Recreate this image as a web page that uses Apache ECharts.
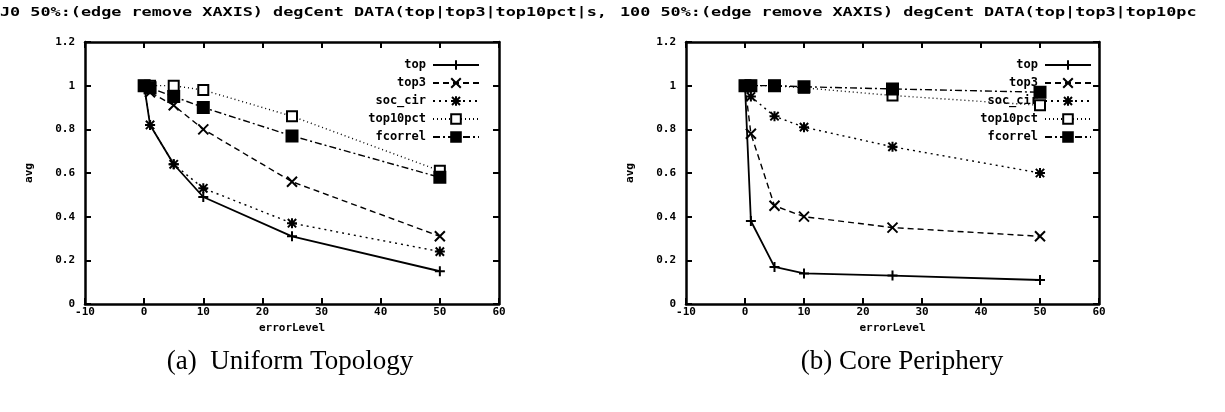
<!DOCTYPE html>
<html>
<head>
<meta charset="utf-8">
<script src="https://cdn.jsdelivr.net/npm/echarts@6/dist/echarts.min.js"></script>
<style>
  html, body { margin: 0; padding: 0; background: #fff; }
  #chart { width: 1225px; height: 412px; }
</style>
</head>
<body>
<div id="chart"></div>
<script>
// x values (errorLevel)
var errorLevels = [0, 1, 5, 10, 25, 50];
var seriesNames = ['top', 'top3', 'soc_cir', 'top10pct', 'fcorrel'];

// (a) Uniform Topology
var uniTop      = [1, 0.82, 0.64, 0.49, 0.31, 0.15];
var uniTop3     = [1, 0.97, 0.91, 0.80, 0.56, 0.31];
var uniSocCir   = [1, 0.82, 0.64, 0.53, 0.37, 0.24];
var uniTop10pct = [1, 1.00, 1.00, 0.98, 0.86, 0.61];
var uniFcorrel  = [1, 0.99, 0.95, 0.90, 0.77, 0.58];

// (b) Core Periphery
var cpTop      = [1, 0.38, 0.17, 0.14, 0.13, 0.11];
var cpTop3     = [1, 0.78, 0.45, 0.40, 0.35, 0.31];
var cpSocCir   = [1, 0.95, 0.86, 0.81, 0.72, 0.60];
var cpTop10pct = [1, 1.00, 1.00, 0.99, 0.955, 0.91];
var cpFcorrel  = [1, 1.00, 1.00, 0.995, 0.985, 0.97];

var yTicks = ['0', '0.2', '0.4', '0.6', '0.8', '1', '1.2'];

var titleA = 'J0 50%:(edge remove XAXIS) degCent DATA(top|top3|top10pct|s,';
var titleB = '100 50%:(edge remove XAXIS) degCent DATA(top|top3|top10pc';
var captionA = '(a)  Uniform Topology';
var captionB = '(b) Core Periphery';

var monoFont = '"DejaVu Sans Mono", monospace';

// 标记形状
var symPlus = 'path://M5,0L5,10M0,5L10,5';
var symCross = 'path://M0,0L10,10M10,0L0,10';
var symStar = 'path://M0,0L10,10M10,0L0,10M5,-1L5,11M-1,5L11,5';

var styles = {
  top:      { dash: 'solid',          symbol: symPlus,  size: 10, fill: 'transparent' },
  top3:     { dash: [6, 4],           symbol: symCross, size: 10, fill: 'transparent' },
  soc_cir:  { dash: [2, 4],           symbol: symStar,  size: 10, fill: 'transparent' },
  top10pct: { dash: [1, 3],           symbol: 'rect',   size: 10, fill: '#fff' },
  fcorrel:  { dash: [7, 3, 2, 3],     symbol: 'rect',   size: 11, fill: '#000' }
};

function pairs(ys) {
  return errorLevels.map(function (x, i) { return [x, ys[i]]; });
}

function makeSeries(name, ys, idx) {
  var s = styles[name];
  return {
    name: name,
    type: 'line',
    xAxisIndex: idx,
    yAxisIndex: idx,
    data: pairs(ys),
    symbol: s.symbol,
    symbolSize: s.size,
    showAllSymbol: true,
    animation: false,
    lineStyle: { color: '#000', width: name === 'top' ? 1.8 : 1.4, type: s.dash },
    itemStyle: { color: s.fill, borderColor: '#000', borderWidth: 2 }
  };
}

var chart = echarts.init(document.getElementById('chart'));

var grids = [
  { left: 85, top: 42, width: 414, height: 262 },
  { left: 686, top: 42, width: 413, height: 262 }
];

var lineSty = { color: '#000', width: 2.5 };
var tickSty = { inside: true, length: 6, lineStyle: { color: '#000', width: 2 } };

function xAxes(idx) {
  return [{
    type: 'value', gridIndex: idx, min: -10, max: 60, interval: 10,
    name: 'errorLevel', nameLocation: 'middle', nameGap: 14,
    nameTextStyle: { fontFamily: monoFont, fontWeight: 'bold', fontSize: 11, color: '#000' },
    axisLine: { onZero: false, lineStyle: lineSty },
    axisTick: tickSty,
    axisLabel: { margin: 3, fontFamily: monoFont, fontWeight: 'bold', fontSize: 11, color: '#000' },
    splitLine: { show: false }
  }, {
    type: 'value', gridIndex: idx, position: 'top', min: -10, max: 60, interval: 10,
    axisLine: { onZero: false, lineStyle: lineSty },
    axisTick: tickSty,
    axisLabel: { show: false },
    splitLine: { show: false }
  }];
}

function yAxes(idx) {
  return [{
    type: 'value', gridIndex: idx, min: 0, max: 1.2, interval: 0.2,
    name: 'avg', nameLocation: 'middle', nameGap: 50,
    nameTextStyle: { fontFamily: monoFont, fontWeight: 'bold', fontSize: 11, color: '#000' },
    axisLine: { onZero: false, lineStyle: lineSty },
    axisTick: tickSty,
    axisLabel: {
      margin: 10, fontFamily: monoFont, fontWeight: 'bold', fontSize: 11, color: '#000',
      formatter: function (v) { return yTicks[Math.round(v / 0.2)]; }
    },
    splitLine: { show: false }
  }, {
    type: 'value', gridIndex: idx, position: 'right', min: 0, max: 1.2, interval: 0.2,
    axisLine: { onZero: false, lineStyle: lineSty },
    axisTick: tickSty,
    axisLabel: { show: false },
    splitLine: { show: false }
  }];
}

var xa = xAxes(0), xb = xAxes(1), ya = yAxes(0), yb = yAxes(1);
// 0 = grid0 bottom, 1 = grid1 bottom, 2 = grid0 top, 3 = grid1 top
var xAxis = [xa[0], xb[0], xa[1], xb[1]];
var yAxis = [ya[0], yb[0], ya[1], yb[1]];

var uniData = [uniTop, uniTop3, uniSocCir, uniTop10pct, uniFcorrel];
var cpData = [cpTop, cpTop3, cpSocCir, cpTop10pct, cpFcorrel];
var series = [];
seriesNames.forEach(function (n, i) { series.push(makeSeries(n, uniData[i], 0)); });
seriesNames.forEach(function (n, i) { series.push(makeSeries(n, cpData[i], 1)); });

function makeLegend(right) {
  return {
    orient: 'vertical', right: right, top: 54, align: 'right',
    itemWidth: 46, itemHeight: 12, itemGap: 6,
    data: seriesNames, selectedMode: false,
    textStyle: { fontFamily: monoFont, fontWeight: 'bold', fontSize: 12, color: '#000', padding: [0, 2, 0, 0] }
  };
}

function bigText(txt, x, y) {
  return {
    type: 'text', x: x, y: y, scaleX: 1.4, silent: true,
    style: { text: txt, font: 'bold 12px ' + monoFont, fill: '#000', textVerticalAlign: 'middle' }
  };
}

function caption(txt, cx, y) {
  return {
    type: 'text', x: cx, y: y, silent: true,
    style: { text: txt, font: '27px "Liberation Serif", serif', fill: '#000', textAlign: 'center', textVerticalAlign: 'middle' }
  };
}

chart.setOption({
  backgroundColor: '#fff',
  animation: false,
  grid: grids,
  xAxis: xAxis,
  yAxis: yAxis,
  legend: [makeLegend(740), makeLegend(128)],
  series: series,
  graphic: [
    bigText(titleA, 0, 13),
    bigText(titleB, 620, 13),
    caption(captionA, 290, 362),
    caption(captionB, 902, 362)
  ]
});

window.addEventListener('resize', function () { chart.resize(); });
</script>
</body>
</html>
